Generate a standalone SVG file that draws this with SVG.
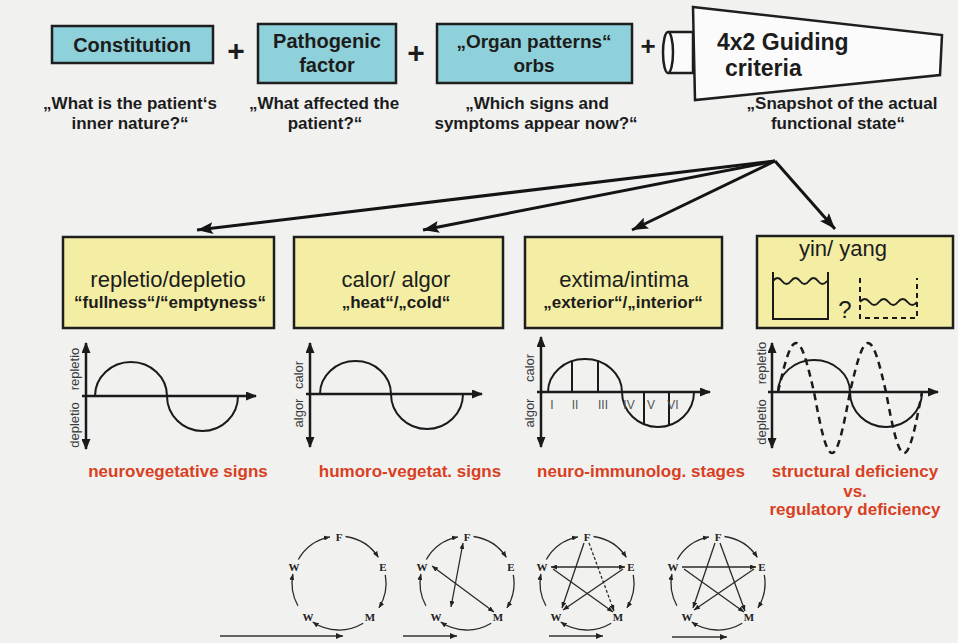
<svg xmlns="http://www.w3.org/2000/svg" width="958" height="643" viewBox="0 0 958 643">
<style>
text{font-family:"Liberation Sans",Arial,sans-serif;fill:#1c1c1c}
.bt{font-size:20px;font-weight:bold;text-anchor:middle}
.cap{font-size:17px;font-weight:bold;text-anchor:middle}
.cyan{fill:#8fd1da;stroke:#1e1e1e;stroke-width:2.5}
.yel{fill:#f3eea4;stroke:#1e1e1e;stroke-width:2.5}
.wh{fill:#fbfbfb;stroke:#1e1e1e;stroke-width:2.5}
.tt{font-size:22px;text-anchor:middle}
.st{font-size:17px;font-weight:bold;text-anchor:middle}
.red{font-size:17px;font-weight:bold;text-anchor:middle;fill:#d8401f}
.axv{stroke:#1a1a1a;stroke-width:2.5;fill:none;marker-start:url(#ah);marker-end:url(#ah)}
.axh{stroke:#1a1a1a;stroke-width:2.5;fill:none;marker-end:url(#ah)}
.crv{stroke:#1a1a1a;stroke-width:2;fill:none}
.dsh{stroke:#1a1a1a;stroke-width:2.5;fill:none;stroke-dasharray:7 5}
.lab{font-size:13px;fill:#3a3a3a;text-anchor:middle}
.rom{font-size:12px;fill:#555;text-anchor:middle}
.conn{stroke:#141414;stroke-width:3;fill:none;marker-end:url(#big)}
.pl{font-size:30px;font-weight:bold;text-anchor:middle}
.pt{font-family:"Liberation Serif","Times New Roman",serif;font-size:11px;font-weight:bold;text-anchor:middle;fill:#222}
.arc{stroke:#2a2a2a;stroke-width:1.3;fill:none;marker-end:url(#sm)}
.ln{stroke:#2a2a2a;stroke-width:1.3;fill:none}
.le{marker-end:url(#sm)}
.lb{marker-start:url(#sm);marker-end:url(#sm)}
.hz{stroke:#333;stroke-width:1.5;fill:none;marker-end:url(#hm)}
</style>
<defs>
<marker id="big" markerUnits="userSpaceOnUse" viewBox="0 0 16 12" markerWidth="16" markerHeight="12" refX="16" refY="6" orient="auto"><path d="M0,0 L16,6 L0,12 L3,6 z" fill="#141414"/></marker>
<marker id="ah" markerUnits="userSpaceOnUse" viewBox="0 0 11 9" markerWidth="11" markerHeight="9" refX="10" refY="4.5" orient="auto-start-reverse"><path d="M0,0 L11,4.5 L0,9 z" fill="#1a1a1a"/></marker>
<marker id="sm" markerUnits="userSpaceOnUse" viewBox="0 0 6 5" markerWidth="6" markerHeight="5" refX="6" refY="2.5" orient="auto-start-reverse"><path d="M0,0 L6,2.5 L0,5 z" fill="#222"/></marker>
<marker id="hm" markerUnits="userSpaceOnUse" viewBox="0 0 7 6" markerWidth="7" markerHeight="6" refX="7" refY="3" orient="auto"><path d="M0,0 L7,3 L0,6 z" fill="#222"/></marker>
<g id="ring">
<path class="arc" d="M6.5,-43.5 A47,47 0 0 1 39.4,-22.6"/>
<path class="arc" d="M46.3,-5.2 A47,47 0 0 1 39.9,27.9"/>
<path class="arc" d="M24.2,43.3 A47,47 0 0 1 -26.3,42"/>
<path class="arc" d="M-41.1,25.8 A47,47 0 0 1 -46.1,-6"/>
<path class="arc" d="M-40.7,-20.5 A47,47 0 0 1 -9,-43.1"/>
<text class="pt" x="0" y="-39">F</text>
<text class="pt" x="-45" y="-9">W</text>
<text class="pt" x="44" y="-9">E</text>
<text class="pt" x="-31" y="41">W</text>
<text class="pt" x="31" y="41">M</text>
</g>
</defs>
<rect width="958" height="643" fill="#f1f1f0"/>

<g id="constitution">
<rect class="cyan" x="52" y="26" width="161" height="37"/>
<text class="bt" x="132" y="52">Constitution</text>
<text class="cap" x="130" y="109">„What is the patient‘s</text>
<text class="cap" x="130" y="129">inner nature?“</text>
</g>
<text class="pl" x="236" y="61">+</text>
<g id="pathogenic">
<rect class="cyan" x="258" y="24" width="138" height="59"/>
<text class="bt" x="327" y="48">Pathogenic</text>
<text class="bt" x="327" y="72">factor</text>
<text class="cap" x="324" y="109">„What affected the</text>
<text class="cap" x="325" y="129">patient?“</text>
</g>
<text class="pl" x="416" y="63">+</text>
<g id="organ">
<rect class="cyan" x="437" y="24" width="195" height="59"/>
<text class="bt" x="534" y="48" style="font-size:19px">„Organ patterns“</text>
<text class="bt" x="534" y="72" style="font-size:19px">orbs</text>
<text class="cap" x="537" y="109">„Which signs and</text>
<text class="cap" x="536" y="129">symptoms appear now?“</text>
</g>
<text class="pl" x="648" y="55" style="font-size:26px">+</text>
<g id="criteria">
<path class="wh" d="M668,32 L693,32 L693,73 L668,73"/>
<ellipse class="wh" cx="668" cy="52.5" rx="5" ry="20.5"/>
<polygon class="wh" points="693,7 942,35 940,75 695,100"/>
<text x="717" y="50" style="font-size:23px;font-weight:bold">4x2 Guiding</text>
<text x="725" y="76" style="font-size:23px;font-weight:bold">criteria</text>
<text class="cap" x="842" y="109">„Snapshot of the actual</text>
<text class="cap" x="838" y="129">functional state“</text>
</g>

<g id="connectors">
<path class="conn" d="M775,161 L197,230"/>
<path class="conn" d="M775,161 L423,230"/>
<path class="conn" d="M775,161 L632,230"/>
<path class="conn" d="M775,161 L835,229"/>
</g>

<g id="repletio">
<rect class="yel" x="63" y="237" width="211" height="91"/>
<text class="tt" x="168" y="287">repletio/depletio</text>
<text class="st" x="170" y="308">“fullness“/“emptyness“</text>
</g>
<g id="calor">
<rect class="yel" x="294" y="237" width="209" height="91"/>
<text class="tt" x="396" y="287">calor/ algor</text>
<text class="st" x="396" y="308">„heat“/„cold“</text>
</g>
<g id="extima">
<rect class="yel" x="525" y="237" width="197" height="91"/>
<text class="tt" x="624" y="287">extima/intima</text>
<text class="st" x="623" y="308">„exterior“/„interior“</text>
</g>
<g id="yinyang">
<rect class="yel" x="757" y="236" width="196" height="92"/>
<text class="tt" x="843" y="256">yin/ yang</text>
<path class="crv" d="M773,272 L773,319 L828,319 L828,272"/>
<path class="crv" d="M773,281 q4.5,-6 9,0 t9,0 t9,0 t9,0 t9,0 t9,0"/>
<text x="845" y="318" style="font-size:24px;text-anchor:middle">?</text>
<path class="crv" d="M860,278 L860,318 L917,318 L917,278" stroke-dasharray="5 4"/>
<path class="crv" d="M860,302 q4.75,-6 9.5,0 t9.5,0 t9.5,0 t9.5,0 t9.5,0 t9.5,0"/>
</g>

<g id="graph1">
<path class="axv" d="M86,343 L86,449"/>
<path class="axh" d="M82,396 L256,396"/>
<path class="crv" d="M95,396 A36,34 0 0 1 167,396 A35.5,35 0 0 0 238,396"/>
<text class="lab" transform="translate(79,369) rotate(-90)">repletio</text>
<text class="lab" transform="translate(79,425) rotate(-90)">depletio</text>
<text class="red" x="178" y="477">neurovegetative signs</text>
</g>
<g id="graph2">
<path class="axv" d="M310,343 L310,447"/>
<path class="axh" d="M306,394 L482,394"/>
<path class="crv" d="M320,394 A35.5,33 0 0 1 391,394 A36,35 0 0 0 463,394"/>
<text class="lab" transform="translate(303,375) rotate(-90)">calor</text>
<text class="lab" transform="translate(303,413) rotate(-90)">algor</text>
<text class="red" x="410" y="477">humoro-vegetat. signs</text>
</g>
<g id="graph3">
<path class="axv" d="M541,337 L541,447"/>
<path class="axh" d="M537,392 L710,392"/>
<path class="crv" d="M548,392 A37,33 0 0 1 622,392 A36,35 0 0 0 694,392"/>
<path class="crv" d="M572,392 L572,361 M598,392 L598,361 M644,392 L644,424 M669,392 L669,425"/>
<text class="rom" x="552" y="409">I</text>
<text class="rom" x="575" y="409">II</text>
<text class="rom" x="603" y="409">III</text>
<text class="rom" x="629" y="409">IV</text>
<text class="rom" x="651" y="409">V</text>
<text class="rom" x="673" y="409">VI</text>
<text class="lab" transform="translate(534,368) rotate(-90)">calor</text>
<text class="lab" transform="translate(534,413) rotate(-90)">algor</text>
<text class="red" x="641" y="477">neuro-immunolog. stages</text>
</g>
<g id="graph4">
<path class="axv" d="M772,343 L772,448"/>
<path class="axh" d="M768,392 L938,392"/>
<path class="crv" d="M778,392 A36,32 0 0 1 850,392 A36,35 0 0 0 922,392"/>
<path class="dsh" d="M778,392 C783.87,366.9 789.49,343 796,343 C802.51,343 808.13,366.9 814,392 C819.87,423.25 825.49,453 832,453 C838.51,453 844.13,423.25 850,392 C855.87,366.9 861.49,343 868,343 C874.51,343 880.13,366.9 886,392 C891.87,423.25 897.49,453 904,453 C910.51,453 916.13,423.25 922,392"/>
<text class="lab" transform="translate(766,363) rotate(-90)">repletio</text>
<text class="lab" transform="translate(766,422) rotate(-90)">depletio</text>
<text class="red" x="855" y="477">structural deficiency</text>
<text class="red" x="855" y="497">vs.</text>
<text class="red" x="855" y="515">regulatory deficiency</text>
</g>

<g id="cycle1" transform="translate(339,580)">
<use href="#ring"/>
</g>
<g id="cycle2" transform="translate(467,580)">
<use href="#ring"/>
<path class="ln lb" d="M-4,-37 L-16,27"/>
<path class="ln lb" d="M-35,-14 L27,32"/>
</g>
<g id="cycle3" transform="translate(587,580)">
<use href="#ring"/>
<path class="ln lb" d="M-36,-13 L38,-13"/>
<path class="ln le" d="M-3,-37 L-25,28"/>
<path class="ln le" d="M2,-37 L27,31" stroke-dasharray="3 2"/>
<path class="ln le" d="M-34,-11 L26,32"/>
<path class="ln le" d="M36,-11 L-24,30"/>
</g>
<g id="cycle4" transform="translate(718,580)">
<use href="#ring"/>
<path class="ln le" d="M-36,-13 L38,-13"/>
<path class="ln le" d="M-3,-37 L-25,28"/>
<path class="ln le" d="M2,-37 L27,31"/>
<path class="ln le" d="M-34,-11 L26,32"/>
<path class="ln le" d="M36,-11 L-24,30"/>
</g>
<g id="timeline">
<path class="hz" d="M220,636 L343,636"/>
<path class="hz" d="M403,636 L457,636"/>
<path class="hz" d="M549,636 L603,636"/>
<path class="hz" d="M672,637 L727,637"/>
</g>
</svg>
